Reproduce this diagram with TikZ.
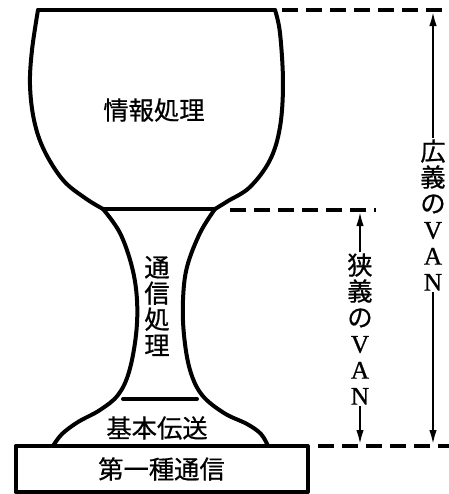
\documentclass[tikz,border=0pt]{standalone}
\usepackage{fontspec}
\newfontfamily\jpfont{Noto Sans CJK JP}[BoldFont={Noto Sans CJK JP}, BoldFeatures={FakeBold=0.6}]
\newfontfamily\vanfont{Liberation Serif}[BoldFont={Liberation Serif}, BoldFeatures={FakeBold=0.8}]
\usetikzlibrary{arrows.meta}

\tikzset{every picture/.style={line width=0.75pt}}
\tikzset{
	glassline/.style={line width=3pt, line cap=round, line join=round},
	levelline/.style={line width=2.4pt, dash pattern=on 12pt off 6pt},
	dimarrow/.style={line width=2pt, -{Latex[length=12pt,width=5.5pt]}},
	jptext/.style={inner sep=0.75pt, font=\jpfont\bfseries\fontsize{19}{19.5}\selectfont},
	vtext/.style={jptext, align=center},
}

\begin{document}
\begin{tikzpicture}[x=0.75pt,y=0.75pt,yscale=-1,xscale=1]
		\useasboundingbox (0,0) rectangle (449,494);
		
		%Shape: bowl
		\draw [glassline] (38,10) -- (275,10) ;
		\draw [glassline] plot [smooth, tension=0.6] coordinates {(38,10) (32,50) (30,85) (34,120) (44,150) (63,180) (85,198) (103,209)} ;
		\draw [glassline] plot [smooth, tension=0.6] coordinates {(275,10) (280,33) (283,83) (280,127) (270,160) (250,187) (228,201) (215,209)} ;
		%Shape: stem and foot
		\draw [glassline] (103,209) -- (215,209) ;
		\draw [glassline] plot [smooth, tension=0.6] coordinates {(103,209) (120,233) (132,267) (137,300) (136,335) (129,372) (118,395) (100,410) (78,422) (62,434) (53,446)} ;
		\draw [glassline] plot [smooth, tension=0.6] coordinates {(215,209) (200,233) (187,267) (183,300) (184,335) (190,370) (202,395) (224,413) (247,424) (261,434) (268,446)} ;
		\draw [glassline] (123,399) -- (197,399) ;
		%Shape: base
		\node [jptext, draw, glassline, minimum width=219pt, minimum height=34.5pt] (base) at (161.5,469) {第一種通信};
		
		\node [jptext] (info) at (154,110) {情報処理};
		\node [vtext] (comm) at (157,306) {通\\信\\処\\理};
		\node [jptext] (trans) at (157,428) {基本伝送};
		
		%Level lines
		\coordinate (wideTop) at (433,10);
		\coordinate (wideBot) at (433,446);
		\coordinate (narrowTop) at (360,210);
		\coordinate (narrowBot) at (360,446);
		\draw [levelline] (282,10) -- (449,10) ;
		\draw [levelline] (230,210) -- (376,210) ;
		\draw [levelline] (318,446) -- (449,446) ;
		
		%Dimension arrows
		\node [vtext] (wide) at (433,215) {広\\義\\の\\{\vanfont V}\\{\vanfont A}\\{\vanfont N}};
		\node [vtext] (narrow) at (360,329) {狭\\義\\の\\{\vanfont V}\\{\vanfont A}\\{\vanfont N}};
		\draw [dimarrow] (wide) -- (wideTop) ;
		\draw [dimarrow] (wide) -- (wideBot) ;
		\draw [dimarrow] (narrow) -- (narrowTop) ;
		\draw [dimarrow] (narrow) -- (narrowBot) ;
		
	\end{tikzpicture}
\end{document}
